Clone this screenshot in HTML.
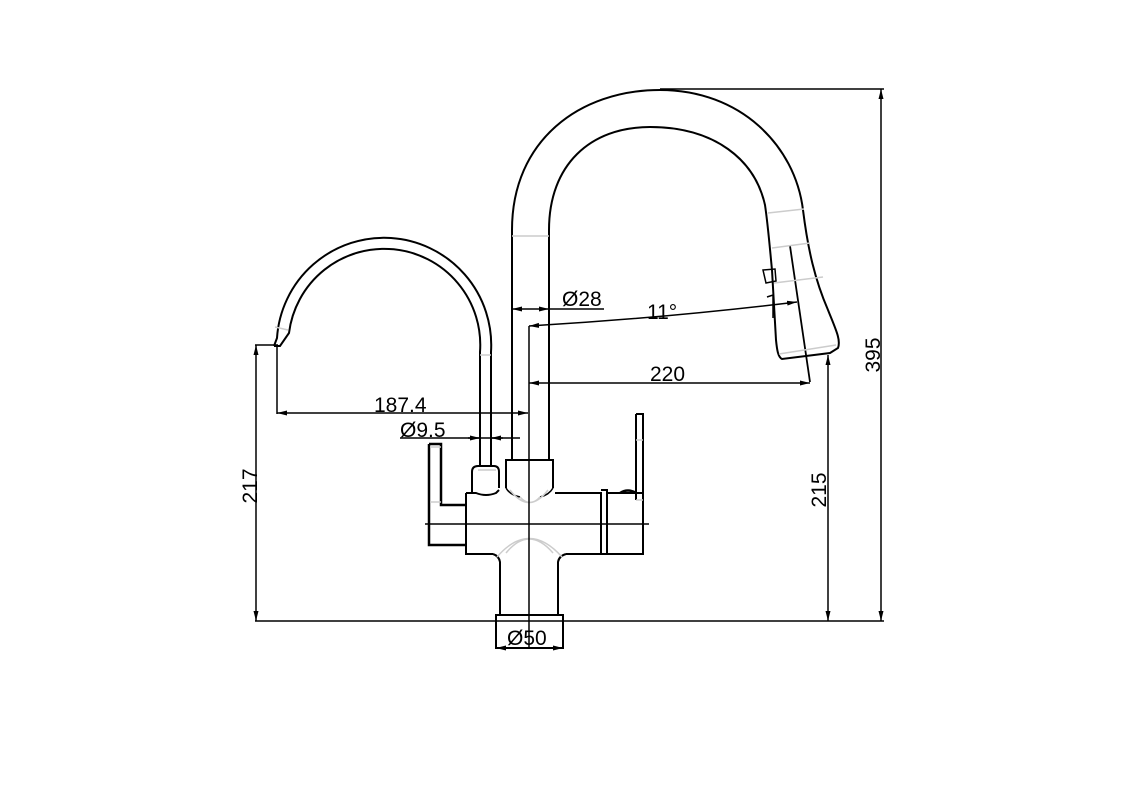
<!DOCTYPE html>
<html><head><meta charset="utf-8"><style>
html,body{margin:0;padding:0;background:#fff;}
svg{display:block;}
text{font-family:"Liberation Sans",sans-serif;font-size:21px;fill:#000;}
</style></head><body>
<svg width="1123" height="793" viewBox="0 0 1123 793" xmlns="http://www.w3.org/2000/svg">
<defs>
<marker id="a" viewBox="0 0 10 6" refX="10" refY="3" markerWidth="10" markerHeight="6" orient="auto-start-reverse" markerUnits="userSpaceOnUse"><path d="M0,0.5 L10,3 L0,5.5 z" fill="#000"/></marker>
</defs>
<g fill="none" stroke="#000" stroke-width="2">
<path d="M512,460 L512,230 C512,140 580,90 660,90 C740,90 795,145 803,210 C808,250 815,280 828,310 C836,330 841,340 838,348 L830,353 L782,359 C778,357 777,350 776,340 L772,270 C770,250 768,225 765,205 C755,160 715,127 650,127 C590,127 549,165 549,230 L549,460"/>
<path d="M763,270 L775,269 L776,281 L766,283 Z" stroke-width="1.5"/>
<path d="M767,297 L773,295 L773,318" stroke-width="1.5"/>
<line x1="790" y1="246" x2="810" y2="382" stroke-width="1.8"/>
<path d="M491,466 L491,352 A107,107 0 0 0 277,338 L274,346"/>
<path d="M480,466 L480,352 A96,96 0 0 0 289,333 L280,346 L274,346"/>
<path d="M506,488 L506,460 L553,460 L553,488"/>
<path d="M472,493 L472,472 Q472,466 478,466 L494,466 Q499,466 499,472 L499,488"/>
<path d="M506,488 Q510,495 520,497 M553,488 Q549,495 540,497" stroke-width="1.5"/>
<path d="M466,493 L476,493 Q486,497 496,493 L499,490 M555,493 L601,493 L601,554 L566,554 M493,554 L466,554 L466,493"/>
<path d="M601,490 L607,490 L607,554 L601,554 M607,493 L643,493 L643,554 L607,554"/>
<path d="M636,414 L643,414 L643,500 M636,414 L636,500" stroke-width="2"/>
<path d="M620,493 Q628,488 636,493" stroke-width="2.5"/>
<path d="M429,444 L441,444 L441,505 L466,505 M429,444 L429,545 L466,545" stroke-width="2.5"/>
<path d="M493,554 Q499,556 500,562 L500,615 M566,554 Q559,556 558,562 L558,615"/>
<rect x="496" y="615" width="67" height="33"/>
</g>
<g stroke="#ccc" stroke-width="1.5" fill="none">
<line x1="512" y1="236" x2="549" y2="236"/>
<line x1="768" y1="213" x2="804" y2="209"/>
<line x1="772" y1="248" x2="810" y2="243"/>
<line x1="774" y1="283" x2="823" y2="277"/>
<line x1="779" y1="354" x2="836" y2="345"/>
<line x1="480" y1="355" x2="491" y2="355"/>
<line x1="275" y1="327" x2="288" y2="330"/>
<line x1="478" y1="470" x2="496" y2="470"/>
<path d="M520,497 Q530,508 540,497 M510,490 Q529,515 548,490 M506,553 Q529,525 553,553 M497,557 Q529,520 562,557"/>
<line x1="430" y1="447" x2="441" y2="447"/>
<line x1="430" y1="502" x2="441" y2="502"/>
<line x1="636" y1="440" x2="643" y2="440"/>
<line x1="636" y1="500" x2="643" y2="500"/>
</g>
<g stroke="#000" stroke-width="1.5" fill="none">
<line x1="255" y1="621" x2="884" y2="621"/>
<line x1="529" y1="326" x2="529" y2="648"/>
<line x1="425" y1="524" x2="649" y2="524"/>
<line x1="660" y1="89" x2="884" y2="89"/>
<line x1="881" y1="89" x2="881" y2="621" marker-start="url(#a)" marker-end="url(#a)"/>
<line x1="828" y1="355" x2="828" y2="621" marker-start="url(#a)" marker-end="url(#a)"/>
<line x1="255" y1="345" x2="278" y2="345"/>
<line x1="256" y1="345" x2="256" y2="621" marker-start="url(#a)" marker-end="url(#a)"/>
<line x1="277" y1="345" x2="277" y2="414"/>
<line x1="277" y1="413" x2="528" y2="413" marker-start="url(#a)" marker-end="url(#a)"/>
<line x1="400" y1="438" x2="520" y2="438"/>
<line x1="468" y1="438" x2="480" y2="438" marker-end="url(#a)"/>
<line x1="503" y1="438" x2="491" y2="438" marker-end="url(#a)"/>
<line x1="529" y1="383" x2="810" y2="383" marker-start="url(#a)" marker-end="url(#a)"/>
<line x1="512" y1="309" x2="549" y2="309" marker-start="url(#a)" marker-end="url(#a)"/>
<line x1="549" y1="309" x2="604" y2="309"/>
<path d="M529,326 Q665,318 797,302" marker-start="url(#a)" marker-end="url(#a)"/>
<line x1="496" y1="648" x2="563" y2="648" marker-start="url(#a)" marker-end="url(#a)"/>
</g>
<text x="562" y="306">Ø28</text>
<text x="647" y="319">11°</text>
<text x="650" y="381">220</text>
<text x="374" y="412">187.4</text>
<text x="400" y="437">Ø9.5</text>
<text x="507" y="645">Ø50</text>
<text transform="translate(257,486) rotate(-90)" text-anchor="middle">217</text>
<text transform="translate(826,490) rotate(-90)" text-anchor="middle">215</text>
<text transform="translate(880,355) rotate(-90)" text-anchor="middle">395</text>
</svg>
</body></html>
